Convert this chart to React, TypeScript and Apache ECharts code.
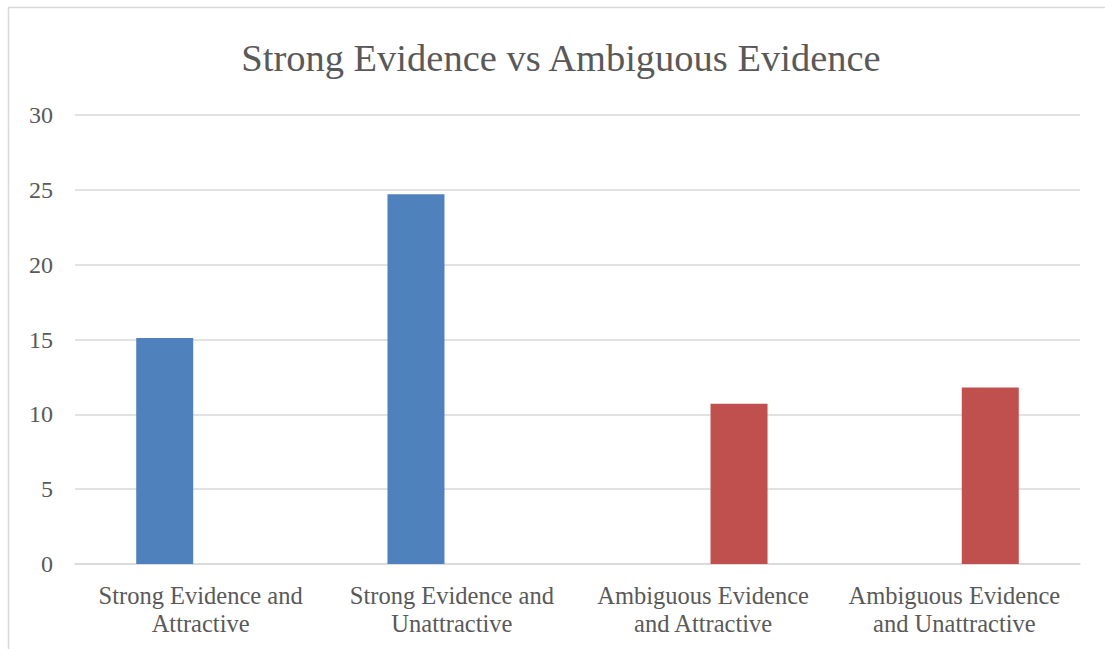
import React, { useEffect, useRef } from "react";
import * as echarts from "echarts";

const title = "Strong Evidence vs Ambiguous Evidence";
const categories = [
  "Strong Evidence and\nAttractive",
  "Strong Evidence and\nUnattractive",
  "Ambiguous Evidence\nand Attractive",
  "Ambiguous Evidence\nand Unattractive",
];
const strongValues = [15.1, 24.7, null, null];
const ambiguousValues = [null, null, 10.7, 11.8];
const yMin = 0;
const yMax = 30;
const yInterval = 5;

const FONT = "'Liberation Serif', 'DejaVu Serif', serif";
const TEXT = "#595959";
const GRID = "#d9d9d9";

export default function App() {
  const ref = useRef<HTMLDivElement>(null);
  useEffect(() => {
    if (!ref.current) return;
    const chart = echarts.init(ref.current, null, { renderer: "svg" });
    chart.setOption({
      animation: false,
      backgroundColor: "#ffffff",
      textStyle: { fontFamily: FONT },
      title: {
        text: title,
        left: 556,
        top: 33,
        textAlign: "center",
        textStyle: {
          fontFamily: FONT,
          fontSize: 38.5,
          fontWeight: "normal",
          color: TEXT,
        },
      },
      graphic: [
        {
          type: "rect",
          shape: { x: 8.5, y: 7.5, width: 1200, height: 800 },
          style: { fill: "none", stroke: GRID, lineWidth: 1.5 },
          silent: true,
          z: -1,
        },
      ],
      grid: { left: 75, right: 25, top: 115, bottom: 85, containLabel: false },
      xAxis: {
        type: "category",
        data: categories,
        axisLine: { show: true, lineStyle: { color: GRID, width: 1.5 } },
        axisTick: { show: false },
        axisLabel: {
          color: TEXT,
          fontFamily: FONT,
          fontSize: 24.5,
          lineHeight: 28,
          margin: 17,
          interval: 0,
        },
      },
      yAxis: {
        type: "value",
        min: yMin,
        max: yMax,
        interval: yInterval,
        axisLine: { show: false },
        axisTick: { show: false },
        splitLine: { lineStyle: { color: GRID, width: 1.5 } },
        axisLabel: {
          color: TEXT,
          fontFamily: FONT,
          fontSize: 24,
          margin: 22,
        },
      },
      series: [
        {
          name: "Strong Evidence",
          type: "bar",
          data: strongValues,
          barWidth: 57,
          barGap: "26%",
          itemStyle: { color: "#4f81bd" },
        },
        {
          name: "Ambiguous Evidence",
          type: "bar",
          data: ambiguousValues,
          barWidth: 57,
          barGap: "26%",
          itemStyle: { color: "#c0504d" },
        },
      ],
    });
    return () => chart.dispose();
  }, []);
  return (
    <div
      ref={ref}
      style={{ position: "fixed", left: 0, top: 0, width: 1105, height: 649 }}
    />
  );
}
